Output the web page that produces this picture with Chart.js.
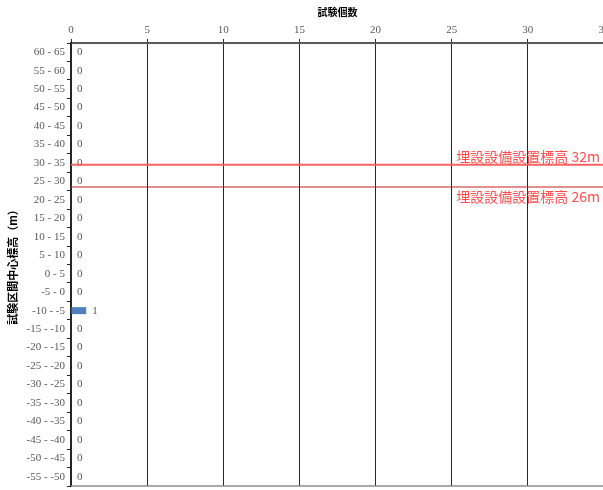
<!DOCTYPE html>
<html>
<head>
<meta charset="utf-8">
<script src="https://cdn.jsdelivr.net/npm/chart.js@4/dist/chart.umd.min.js"></script>
<style>
    html, body { margin: 0; padding: 0; background: #fff; overflow: hidden; }
    #wrap { width: 640px; height: 490px; }
</style>
</head>
<body>
<div id="wrap"><canvas id="kosuChart" width="640" height="490"></canvas></div>
<script>
// 区間 (上から)
const intervals = [
    "60 - 65", "55 - 60", "50 - 55", "45 - 50", "40 - 45", "35 - 40",
    "30 - 35", "25 - 30", "20 - 25", "15 - 20", "10 - 15", "5 - 10",
    "0 - 5", "-5 - 0", "-10 - -5", "-15 - -10", "-20 - -15", "-25 - -20",
    "-30 - -25", "-35 - -30", "-40 - -35", "-45 - -40", "-50 - -45", "-55 - -50",
];
const testCounts = [0, 0, 0, 0, 0, 0, 0, 0, 0, 0, 0, 0, 0, 0, 1, 0, 0, 0, 0, 0, 0, 0, 0, 0];

const countTicks = [0, 5, 10, 15, 20, 25, 30, 35];
const elevRange = [-55, 65]; // 区間全体 (下端, 上端)

// 埋設設備設置標高
const markerLevels = [32, 26];
const markerLabels = ["埋設設備設置標高 32m", "埋設設備設置標高 26m"];
const markerColors = ["rgba(255,90,90,0.95)", "#c82020"];
const markerWidths = [2, 1.2];

const serif = "'Liberation Serif', 'DejaVu Serif', serif";
const cjk = "'Noto Sans CJK JP', sans-serif";
const grayText = "#595959";

const xMin = countTicks[0];
const xMax = countTicks[countTicks.length - 1];
const bandWidth = (elevRange[1] - elevRange[0]) / intervals.length;

// 標高 -> カテゴリ軸上の位置 (小数インデックス)
function elevToIndex(v) {
    return (elevRange[1] - v) / bandWidth - 0.5;
}

// 設置標高ライン + 値ラベル
const overlayPlugin = {
    id: "overlayPlugin",
    afterDatasetsDraw(chart) {
        const ctx = chart.ctx;
        const area = chart.chartArea;
        const xs = chart.scales.x;
        const ys = chart.scales.y;
        ctx.save();

        // 下の枠線
        ctx.strokeStyle = "#8c8c8c";
        ctx.lineWidth = 1.5;
        ctx.beginPath();
        ctx.moveTo(area.left, area.bottom);
        ctx.lineTo(area.right, area.bottom);
        ctx.stroke();

        // 値ラベル
        const meta = chart.getDatasetMeta(0);
        ctx.font = "11px " + serif;
        ctx.fillStyle = grayText;
        ctx.textAlign = "left";
        ctx.textBaseline = "middle";
        meta.data.forEach((bar, i) => {
            ctx.fillText(String(testCounts[i]), bar.x + 6, bar.y);
        });

        // 設置標高
        const top = Math.max(...markerLevels);
        markerLevels.forEach((v, i) => {
            const py = ys.getPixelForValue(elevToIndex(v));
            ctx.strokeStyle = markerColors[i];
            ctx.lineWidth = markerWidths[i];
            ctx.beginPath();
            ctx.moveTo(xs.getPixelForValue(xMin), py);
            ctx.lineTo(xs.getPixelForValue(xMax), py);
            ctx.stroke();

            ctx.font = "14px " + cjk;
            ctx.fillStyle = "#ff4d4d";
            ctx.textAlign = "right";
            if (v === top) {
                ctx.textBaseline = "bottom";
                ctx.fillText(markerLabels[i], 600, py - 1);
            } else {
                ctx.textBaseline = "top";
                ctx.fillText(markerLabels[i], 600, py + 3);
            }
        });
        ctx.restore();
    },
};

const ctx = document.getElementById("kosuChart").getContext("2d");

new Chart(ctx, {
    type: "bar",
    data: {
        labels: intervals,
        datasets: [
            {
                label: "試験個数",
                data: testCounts,
                backgroundColor: "#4f81bd",
                categoryPercentage: 1,
                barPercentage: 0.38,
            },
        ],
    },
    options: {
        indexAxis: "y",
        responsive: false,
        animation: false,
        layout: { padding: { top: 0, left: 0, right: 36, bottom: 4 } },
        plugins: {
            legend: { display: false },
            tooltip: { enabled: false },
        },
        scales: {
            x: {
                type: "linear",
                position: "top",
                min: xMin,
                max: xMax,
                afterBuildTicks: (scale) => {
                    scale.ticks = countTicks.map((v) => ({ value: v }));
                },
                afterFit: (scale) => { scale.height = 43; },
                ticks: {
                    color: grayText,
                    font: { family: serif, size: 11 },
                    padding: 2,
                    maxRotation: 0,
                },
                grid: {
                    color: "#262626",
                    lineWidth: 1,
                    tickLength: 4,
                },
                border: { color: "#595959", width: 2 },
                title: {
                    display: true,
                    text: "試験個数",
                    color: "#000",
                    font: { family: cjk, size: 10, weight: "bold" },
                    padding: { top: 6, bottom: 0 },
                },
            },
            y: {
                type: "category",
                afterFit: (scale) => {
                    scale.width = 71;
                    scale.paddingTop = 0;
                    scale.paddingBottom = 0;
                },
                ticks: {
                    color: grayText,
                    font: { family: serif, size: 11 },
                    padding: 2,
                },
                grid: {
                    drawOnChartArea: false,
                    color: "#262626",
                    tickLength: 4,
                    offset: true,
                },
                border: { color: "#262626", width: 2 },
                title: {
                    display: true,
                    text: "試験区間中心標高（m）",
                    color: "#000",
                    font: { family: cjk, size: 11, weight: "bold" },
                    padding: { top: 6, bottom: 0 },
                },
            },
        },
    },
    plugins: [overlayPlugin],
});
</script>
</body>
</html>
